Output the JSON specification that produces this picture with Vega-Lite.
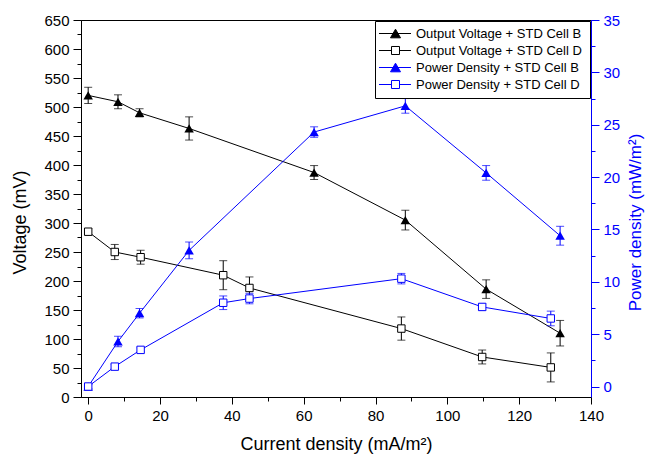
{
  "$schema": "https://vega.github.io/schema/vega-lite/v6.json",
  "width": 510,
  "height": 377,
  "autosize": {"type": "none"},
  "padding": {"left": 81, "top": 20, "right": 57, "bottom": 61},
  "background": "white",
  "config": {
    "font": "Liberation Sans",
    "view": {"stroke": "black", "strokeWidth": 1},
    "axis": {
      "grid": false,
      "labelFont": "Liberation Sans",
      "titleFont": "Liberation Sans",
      "labelFontSize": 15,
      "titleFontSize": 18,
      "titleFontWeight": "normal",
      "labelColor": "black",
      "titleColor": "black",
      "domainColor": "black",
      "tickColor": "black",
      "domainWidth": 1,
      "tickWidth": 1,
      "labelOverlap": false,
      "labelFlush": false
    }
  },
  "data": {
    "values": [
      {"series": "Output Voltage + STD Cell B", "x": 0, "v": 520, "e": 14},
      {"series": "Output Voltage + STD Cell B", "x": 8.3, "v": 509, "e": 12},
      {"series": "Output Voltage + STD Cell B", "x": 14.3, "v": 490, "e": 7},
      {"series": "Output Voltage + STD Cell B", "x": 28.1, "v": 463, "e": 20},
      {"series": "Output Voltage + STD Cell B", "x": 62.9, "v": 387, "e": 12},
      {"series": "Output Voltage + STD Cell B", "x": 88.3, "v": 305, "e": 17},
      {"series": "Output Voltage + STD Cell B", "x": 110.8, "v": 186, "e": 16},
      {"series": "Output Voltage + STD Cell B", "x": 131.4, "v": 110, "e": 22},
      {"series": "Output Voltage + STD Cell D", "x": 0, "v": 285, "e": 5},
      {"series": "Output Voltage + STD Cell D", "x": 7.4, "v": 250, "e": 13},
      {"series": "Output Voltage + STD Cell D", "x": 14.6, "v": 241, "e": 12},
      {"series": "Output Voltage + STD Cell D", "x": 37.6, "v": 210, "e": 25},
      {"series": "Output Voltage + STD Cell D", "x": 44.9, "v": 188, "e": 19},
      {"series": "Output Voltage + STD Cell D", "x": 87.2, "v": 118, "e": 20},
      {"series": "Output Voltage + STD Cell D", "x": 109.7, "v": 69, "e": 12},
      {"series": "Output Voltage + STD Cell D", "x": 128.8, "v": 51, "e": 25},
      {"series": "Power Density  + STD Cell B", "x": 0, "v": 0, "e": 0.2},
      {"series": "Power Density  + STD Cell B", "x": 8.3, "v": 4.3, "e": 0.5},
      {"series": "Power Density  + STD Cell B", "x": 14.3, "v": 7.0, "e": 0.45},
      {"series": "Power Density  + STD Cell B", "x": 28.1, "v": 13.0, "e": 0.8},
      {"series": "Power Density  + STD Cell B", "x": 62.9, "v": 24.3, "e": 0.5},
      {"series": "Power Density  + STD Cell B", "x": 88.3, "v": 26.8, "e": 0.7},
      {"series": "Power Density  + STD Cell B", "x": 110.8, "v": 20.4, "e": 0.7},
      {"series": "Power Density  + STD Cell B", "x": 131.4, "v": 14.4, "e": 0.9},
      {"series": "Power Density  + STD Cell D", "x": 0, "v": 0, "e": 0.2},
      {"series": "Power Density  + STD Cell D", "x": 7.4, "v": 1.9, "e": 0.2},
      {"series": "Power Density  + STD Cell D", "x": 14.6, "v": 3.5, "e": 0.2},
      {"series": "Power Density  + STD Cell D", "x": 37.6, "v": 8.0, "e": 0.65},
      {"series": "Power Density  + STD Cell D", "x": 44.9, "v": 8.4, "e": 0.5},
      {"series": "Power Density  + STD Cell D", "x": 87.2, "v": 10.3, "e": 0.5},
      {"series": "Power Density  + STD Cell D", "x": 109.7, "v": 7.6, "e": 0.3},
      {"series": "Power Density  + STD Cell D", "x": 128.8, "v": 6.5, "e": 0.7}
    ]
  },
  "encoding": {
    "x": {
      "field": "x",
      "type": "quantitative",
      "scale": {"domain": [-2, 140], "nice": false, "zero": false},
      "axis": {
        "title": "Current density (mA/m²)",
        "values": [0, 10, 20, 30, 40, 50, 60, 70, 80, 90, 100, 110, 120, 130, 140],
        "labelExpr": "datum.value % 20 === 0 ? datum.label : ''",
        "tickSize": {"condition": {"test": "datum.value % 20 === 0", "value": 7}, "value": 4},
        "labelPadding": 4,
        "titlePadding": 12
      }
    }
  },
  "layer": [
    {
      "transform": [{"filter": {"field": "series", "oneOf": ["Output Voltage + STD Cell B", "Output Voltage + STD Cell D"]}}],
      "encoding": {
        "y": {
          "field": "v",
          "type": "quantitative",
          "scale": {"domain": [0, 650], "nice": false, "zero": false},
          "axis": {
            "title": "Voltage (mV)",
            "orient": "left",
            "values": [0, 25, 50, 75, 100, 125, 150, 175, 200, 225, 250, 275, 300, 325, 350, 375, 400, 425, 450, 475, 500, 525, 550, 575, 600, 625, 650],
            "labelExpr": "datum.value % 50 === 0 ? datum.label : ''",
            "tickSize": {"condition": {"test": "datum.value % 50 === 0", "value": 8}, "value": 4},
            "labelPadding": 4,
            "titlePadding": 14,
            "titleY": 202
          }
        }
      },
      "layer": [
        {
          "mark": {"type": "line", "color": "black", "strokeWidth": 1},
          "encoding": {"detail": {"field": "series"}}
        },
        {
          "mark": {"type": "errorbar", "color": "black", "thickness": 1, "ticks": {"size": 8}},
          "encoding": {"yError": {"field": "e"}, "detail": {"field": "series"}}
        },
        {
          "transform": [{"filter": {"field": "series", "equal": "Output Voltage + STD Cell B"}}],
          "mark": {"type": "point", "shape": "triangle-up", "filled": true, "color": "black", "size": 90, "opacity": 1}
        },
        {
          "transform": [{"filter": {"field": "series", "equal": "Output Voltage + STD Cell D"}}],
          "mark": {"type": "point", "shape": "square", "fill": "white", "stroke": "black", "strokeWidth": 1, "size": 55, "opacity": 1, "fillOpacity": 1}
        }
      ]
    },
    {
      "transform": [{"filter": {"field": "series", "oneOf": ["Power Density  + STD Cell B", "Power Density  + STD Cell D"]}}],
      "encoding": {
        "y": {
          "field": "v",
          "type": "quantitative",
          "scale": {"domain": [-1, 35], "nice": false, "zero": false},
          "axis": {
            "title": "Power density (mW/m²)",
            "orient": "right",
            "values": [0, 2.5, 5, 7.5, 10, 12.5, 15, 17.5, 20, 22.5, 25, 27.5, 30, 32.5, 35],
            "labelExpr": "datum.value % 5 === 0 ? datum.label : ''",
            "tickSize": {"condition": {"test": "datum.value % 5 === 0", "value": 8}, "value": 4},
            "labelPadding": 4,
            "titlePadding": 8,
            "titleY": 202,
            "titleAngle": 270,
            "titleBaseline": "top",
            "titleFontSize": 17,
            "domainColor": "#0000ff",
            "tickColor": "#0000ff",
            "labelColor": "#0000ff",
            "titleColor": "#0000ff"
          }
        }
      },
      "layer": [
        {
          "mark": {"type": "line", "color": "#0000ff", "strokeWidth": 1},
          "encoding": {"detail": {"field": "series"}}
        },
        {
          "mark": {"type": "errorbar", "color": "#0000ff", "thickness": 1, "ticks": {"size": 8}},
          "encoding": {"yError": {"field": "e"}, "detail": {"field": "series"}}
        },
        {
          "transform": [{"filter": {"field": "series", "equal": "Power Density  + STD Cell B"}}],
          "mark": {"type": "point", "shape": "triangle-up", "filled": true, "color": "#0000ff", "size": 90, "opacity": 1}
        },
        {
          "transform": [{"filter": {"field": "series", "equal": "Power Density  + STD Cell D"}}],
          "mark": {"type": "point", "shape": "square", "fill": "white", "stroke": "#0000ff", "strokeWidth": 1, "size": 55, "opacity": 1, "fillOpacity": 1}
        }
      ]
    },
    {
      "transform": [{"filter": "false"}],
      "mark": {"type": "point", "strokeWidth": 1, "opacity": 1},
      "encoding": {
        "shape": {
          "field": "series",
          "type": "nominal",
          "scale": {
            "domain": ["Output Voltage + STD Cell B", "Output Voltage + STD Cell D", "Power Density  + STD Cell B", "Power Density  + STD Cell D"],
            "range": [
              "M-1.89,0H5.22M1.78,-0.96L2.89,0.96L0.67,0.96Z",
              "M-1.89,0H0.89M2.67,0H5.22M0.89,-0.89H2.67V0.89H0.89Z",
              "M-1.89,0H5.22M1.78,-0.96L2.89,0.96L0.67,0.96Z",
              "M-1.89,0H0.89M2.67,0H5.22M0.89,-0.89H2.67V0.89H0.89Z"
            ]
          },
          "legend": {"orient": "top-right", "offset": 1, "title": null, "strokeColor": "black", "fillColor": "white", "padding": 6, "labelFontSize": 13, "labelFont": "Liberation Sans", "labelColor": "black", "symbolSize": 81, "symbolStrokeWidth": 1, "labelOffset": 22, "rowPadding": 3, "labelLimit": 400, "cornerRadius": 0, "symbolOpacity": 1}
        },
        "fill": {
          "field": "series",
          "type": "nominal",
          "scale": {
            "domain": ["Output Voltage + STD Cell B", "Output Voltage + STD Cell D", "Power Density  + STD Cell B", "Power Density  + STD Cell D"],
            "range": ["black", "white", "#0000ff", "white"]
          },
          "legend": {"orient": "top-right", "offset": 1, "title": null, "strokeColor": "black", "fillColor": "white", "padding": 6, "labelFontSize": 13, "labelFont": "Liberation Sans", "labelColor": "black", "symbolSize": 81, "symbolStrokeWidth": 1, "labelOffset": 22, "rowPadding": 3, "labelLimit": 400, "cornerRadius": 0, "symbolOpacity": 1}
        },
        "stroke": {
          "field": "series",
          "type": "nominal",
          "scale": {
            "domain": ["Output Voltage + STD Cell B", "Output Voltage + STD Cell D", "Power Density  + STD Cell B", "Power Density  + STD Cell D"],
            "range": ["black", "black", "#0000ff", "#0000ff"]
          },
          "legend": {"orient": "top-right", "offset": 1, "title": null, "strokeColor": "black", "fillColor": "white", "padding": 6, "labelFontSize": 13, "labelFont": "Liberation Sans", "labelColor": "black", "symbolSize": 81, "symbolStrokeWidth": 1, "labelOffset": 22, "rowPadding": 3, "labelLimit": 400, "cornerRadius": 0, "symbolOpacity": 1}
        }
      }
    }
  ],
  "resolve": {"scale": {"y": "independent"}}
}
